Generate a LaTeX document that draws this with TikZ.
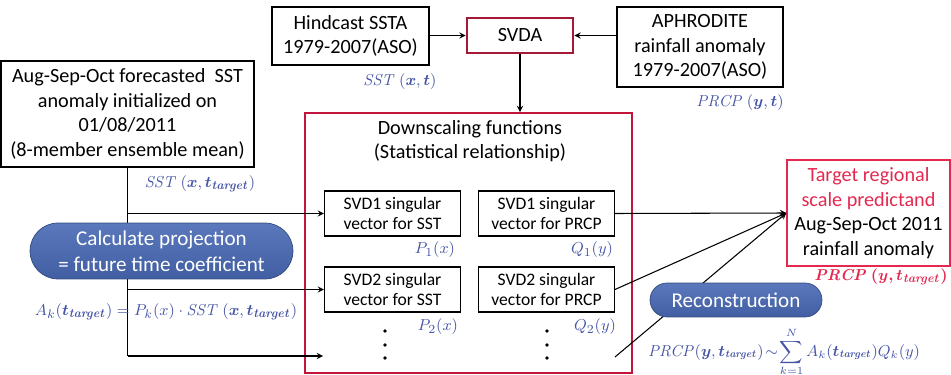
\documentclass[tikz,border=0pt]{standalone}
\usepackage{amsmath}
\usepackage{bm}
\usepackage[no-math]{fontspec}
\setmainfont{Carlito}
\definecolor{svdared}{RGB}{165,25,55}
\definecolor{downred}{RGB}{195,20,60}
\definecolor{targetred}{RGB}{228,40,80}
\definecolor{lblblue}{RGB}{70,85,165}
\definecolor{pillblue}{RGB}{72,105,180}
\usetikzlibrary{positioning}
\newcommand{\tgt}{\bm{t_{\mathit{target}}}}
\tikzset{
  box/.style={draw, semithick, align=center, inner sep=0pt,
    font=\fontsize{11.5}{14}\selectfont},
  smallbox/.style={box, minimum width=2.72cm, minimum height=0.9cm,
    font=\fontsize{10}{11.5}\selectfont},
  lbl/.style={text=lblblue, inner sep=0pt, font=\fontsize{9.5}{12}\selectfont},
  pill/.style={top color=pillblue!90!white, bottom color=pillblue!90!black,
    draw=pillblue!70!black, text=white, align=center, inner sep=0pt,
    font=\fontsize{12}{15}\selectfont},
  flow/.style={->, >=stealth, semithick}
}

\begin{document}
\begin{tikzpicture}[x=0.02cm, y=-0.02cm]
  \useasboundingbox (0,0) rectangle (951,375);

  % inputs
  \node [box, minimum width=5.06cm, minimum height=2.12cm] (fcst) at (127.5,114)
    {Aug-Sep-Oct forecasted~ SST\\anomaly initialized on\\01/08/2011\\(8-member ensemble mean)};
  \node [lbl] (sstt) at (200,184) {$\mathit{SST}\ (\bm{x},\tgt)$};

  \node [box, minimum width=3.14cm, minimum height=1.16cm] (hind) at (350.5,36)
    {Hindcast SSTA\\1979-2007(ASO)};
  \node [lbl] (sst) at (400,82) {$\mathit{SST}\ (\bm{x},\bm{t})$};

  \node [box, draw=svdared, line width=1.6pt, minimum width=2.12cm, minimum height=0.7cm]
    (svda) at (520,35.5) {SVDA};

  \node [box, minimum width=3.32cm, minimum height=1.6cm] (aphro) at (700,47)
    {APHRODITE\\rainfall anomaly\\1979-2007(ASO)};
  \node [lbl] (prcp) at (740,103) {$\mathit{PRCP}\ (\bm{y},\bm{t})$};

  % downscaling functions
  \node [draw=downred, line width=1.1pt, minimum width=6.54cm, minimum height=5.2cm]
    (down) at (468.5,243) {};
  \node [align=center, inner sep=0pt, font=\fontsize{11.5}{14}\selectfont] (title) at (470,141)
    {Downscaling functions\\(Statistical relationship)};

  \node [smallbox] (p1box) at (392.5,213.5) {SVD1 singular\\vector for SST};
  \node [smallbox] (q1box) at (546.5,213.5) {SVD1 singular\\vector for PRCP};
  \node [smallbox] (p2box) at (392.5,289.5) {SVD2 singular\\vector for SST};
  \node [smallbox] (q2box) at (546.5,289.5) {SVD2 singular\\vector for PRCP};

  \node [lbl] (p1) at (435,250) {$P_1(x)$};
  \node [lbl] (q1) at (592,250) {$Q_1(y)$};
  \node [lbl] (p2) at (438,327) {$P_2(x)$};
  \node [lbl] (q2) at (595,327) {$Q_2(y)$};

  \foreach \col in {385,547} {
    \foreach \row in {331,345,358} {
      \fill (\col,\row) circle (1.1pt);
    }
  }

  % target
  \node [box, draw=targetred, thick, minimum width=3.26cm, minimum height=2.12cm]
    (target) at (868.5,213)
    {\textcolor{targetred}{Target regional}\\\textcolor{targetred}{scale predictand}\\Aug-Sep-Oct 2011\\rainfall anomaly};
  \node [lbl, text=targetred, anchor=east] (prcpt) at (948,277)
    {$\bm{\mathit{PRCP}\ (y,t_{\mathit{target}})}$};

  \coordinate (dotsin) at (323,356);
  \coordinate (dotsout) at (615,357);

  \draw [flow] (hind.east |- svda) -- (svda.west);
  \draw [flow] (aphro.west |- svda) -- (svda.east);
  \draw [flow] (svda.south) -- (svda.south |- down.north);

  \draw [semithick] (fcst.south) -- (fcst.south |- dotsin);
  \draw [flow] (fcst.south |- p1box.west) -- (p1box.west);
  \draw [flow] (fcst.south |- p2box.west) -- (p2box.west);
  \draw [flow] (fcst.south |- dotsin) -- (dotsin);

  \draw [flow] (q1box.east) -- (target.west);
  \draw [flow] (q2box.east) -- (target.west);
  \draw [flow] (dotsout) -- (target.west);

  % pills on top of the lines
  \node [pill, minimum width=5.26cm, minimum height=1.12cm, rounded corners=0.56cm]
    (calc) at (161.5,251) {Calculate projection\\= future time coefficient};
  \node [lbl] (akf) at (166,312)
    {$A_k(\tgt) = P_k(x)\cdot \mathit{SST}\ (\bm{x},\tgt)$};

  \node [pill, minimum width=3.44cm, minimum height=0.68cm, rounded corners=0.34cm]
    (recon) at (736,300) {Reconstruction};
  \node [lbl, font=\fontsize{9}{11}\selectfont] (reconf) at (784,352)
    {$\mathit{PRCP}(\bm{y},\tgt)\!\sim\!\displaystyle\sum_{k=1}^{N}A_k(\tgt)Q_k(y)$};
\end{tikzpicture}
\end{document}
